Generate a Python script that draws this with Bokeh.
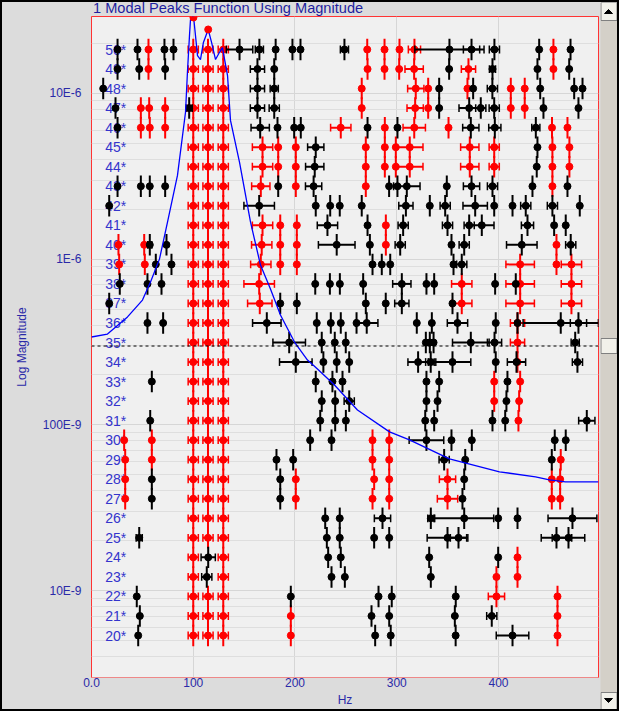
from bokeh.plotting import figure
from bokeh.layouts import row, column
from bokeh.models import (Range1d, FixedTicker, CustomJSTickFormatter, ColumnDataSource,
                          Span, LinearScale, Div)
from bokeh.embed import file_html
from bokeh.resources import INLINE
from bokeh.core.properties import value

# ---------------- data ----------------
title_text = "1 Modal Peaks Function Using Magnitude"
x_label = "Hz"
y_label = "Log Magnitude"
x_tick_vals = [0, 100, 200, 300, 400]
x_tick_labels = ["0.0", "100", "200", "300", "400"]
y_tick_vals = [1e-8, 1e-7, 1e-6, 1e-5]
y_tick_labels = ["10E-9", "100E-9", "1E-6", "10E-6"]
model_orders = list(range(20, 51))

# modal peaks function (magnitude)
curve_hz = [0, 15.7, 35.4, 50.1, 58, 66.8, 74.7, 84.5, 92.4, 94.3, 96.3, 97.3, 100.2, 104.2,
            107.1, 110, 114.7, 118, 121.9, 125.8, 128.7, 133.7, 136.6, 145.5, 156.3, 166.1,
            175.9, 185.7, 199.5, 212.3, 222.1, 238.8, 261.4, 292.9, 312.5, 351.8, 401, 436.4,
            450.1, 465.8, 498.3]
curve_mag = [3.39e-7, 3.53e-7, 4.48e-7, 5.66e-7, 7.27e-7, 1.0e-6, 1.67e-6, 3.2e-6, 7.69e-6,
             1.34e-5, 2.23e-5, 2.79e-5, 2.95e-5, 1.69e-5, 1.6e-5, 2.03e-5, 2.43e-5, 2.03e-5,
             1.6e-5, 1.77e-5, 1.89e-5, 1.28e-5, 6.87e-6, 3.84e-6, 1.67e-6, 9.2e-7, 6.6e-7,
             4.6e-7, 3.16e-7, 2.46e-7, 2.17e-7, 1.74e-7, 1.23e-7, 9.07e-8, 8.12e-8, 6.24e-8,
             5.21e-8, 4.86e-8, 4.66e-8, 4.53e-8, 4.53e-8]
peak_hz = [100.2, 114.7]
peak_mag = [2.87e-5, 2.43e-5]
cursor_mag = 2.99e-7

# stability markers per model order: (frequency Hz, half-width Hz)
red_50 = [(56,0),(100,5),(114.5,5),(129.5,5),(271,0),(288,0),(302.7,0),(317.4,6),(454,0)]
black_50 = [(25.6,0),(45.2,0),(71.7,0),(80.6,0),(145.5,13),(165,4),(181,0),(197.5,0),(205.4,0),
            (248.6,4),(351.8,34),(373.5,8),(396,5),(440,0),(470.8,0)]
red_49 = [(56,0),(100,5),(114.5,5),(129.5,5),(271.3,0),(288,0),(302.4,0),(317.1,9),(370.5,7),(454,0)]
black_49 = [(25.6,0),(46.9,0),(72.4,0),(163.1,7),(179.6,0),(351.5,0),(394.1,3),(438.3,0),(469.5,0)]
red_48 = [(100,5),(114.5,5),(129.5,5),(265.6,0),(318.7,8),(330.9,0),(369.5,0),(412.1,0),(425.8,0)]
black_48 = [(11.5,0),(163.1,7),(179.6,4),(341.7,0),(375.1,0),(394,5),(441,0),(474.4,0),(482.6,0)]
red_47 = [(48.5,0),(56.7,0),(72.4,0),(100,5),(114.5,5),(129.5,5),(265.6,0),(318.1,8),(330.9,0),
          (412.1,0),(425.8,0)]
black_47 = [(23.6,0),(96,3),(163.1,7),(179.6,5),(341.7,0),(371.2,10),(382.6,5),(395.8,5),
            (444.2,0),(478.6,0)]
red_46 = [(48.5,0),(57.3,0),(72.4,0),(100,5),(114.5,5),(129.5,5),(245,10),(288.3,0),(317.2,11),
          (350.9,0),(452.6,0),(467.8,0)]
black_46 = [(25.6,0),(165.8,9),(182.8,0),(199.2,0),(205.7,0),(271.3,0),(300.7,0),(372.8,8),
            (396.4,6),(436.7,4)]
red_45 = [(100,5),(114.5,5),(129.5,5),(168.1,10),(183.5,0),(200.8,0),(269.6,0),(288.3,0),
          (299.1,0),(312.8,13),(371.8,9),(395.8,5),(453,0),(469.7,0)]
black_45 = [(220.4,8),(438.3,0)]
red_44 = [(100,5),(114.5,5),(129.5,5),(168.1,10),(183.5,0),(200.8,0),(269.6,0),(288.3,0),
          (299.1,0),(312.8,13),(371.8,9),(395.8,5),(453,0),(469.7,0)]
black_44 = [(219.4,9),(437.6,0)]
red_43 = [(100,5),(114.5,5),(129.5,5),(166.4,9),(200.8,0),(269.6,0),(453,0)]
black_43 = [(25.6,0),(48.5,0),(57.3,0),(72.4,0),(183.5,0),(218.3,8),(292.5,0),(300.7,0),
            (309.9,13),(349.2,0),(373.5,8),(394.1,5),(433.4,0),(467.8,0)]
red_42 = [(100,5),(114.5,5),(129.5,5)]
black_42 = [(17.4,0),(164.8,15),(220.4,0),(234.6,0),(244,0),(265.6,0),(309,7),(332.5,0),
            (347.6,5),(377.1,12),(395.8,0),(413.8,0),(426.8,5),(453,5),(479.9,0)]
red_41 = [(100,5),(114.5,5),(129.5,5),(168.1,10),(185.5,0),(201.8,0),(289.3,0)]
black_41 = [(231.9,10),(271.3,0),(306.3,5),(349.9,5),(371.2,5),(383.6,12),(428.5,6),
            (454.7,0),(466.1,0)]
red_40 = [(26.5,0),(51.8,0),(100,5),(114.5,5),(129.5,5),(167.3,10),(185.5,0),(201.8,0),
          (289.3,0),(457,0)]
black_40 = [(57.3,2),(73.7,0),(241,18),(273.6,0),(303.4,5),(353.8,0),(366.3,5),(422.9,15),(471,5)]
red_39 = [(27.2,0),(52.4,0),(100,5),(114.5,5),(129.5,5),(166.4,10),(185.5,0),(201.8,0),
          (421.3,14),(457,0),(471.7,10)]
black_39 = [(63.2,0),(78.6,0),(276.2,0),(285.3,0),(293.6,0),(355.8,0),(363.9,5)]
red_38 = [(100,5),(114.5,5),(129.5,5),(164.8,15),(363.9,10),(421.3,14),(471.7,10)]
black_38 = [(27.8,0),(55,0),(68.8,0),(219.9,0),(234.3,0),(244.1,0),(267,0),(305,9),(329.2,0),
            (336.8,0),(396.7,0),(417,0)]
red_37 = [(100,5),(114.5,5),(129.5,5),(165.4,12),(363.9,10),(421.3,14),(471.7,10)]
black_37 = [(17.4,0),(185.5,0),(201.8,0),(269.6,0),(289.2,0),(305,7),(354.8,0)]
red_36 = [(100,5),(114.5,5),(129.5,5),(418.7,7)]
black_36 = [(55,0),(70.4,0),(172.3,14),(221.4,0),(235.2,0),(245,0),(260.5,0),(270.5,11),
            (319.7,0),(334.5,0),(359.7,10),(397.3,0),(418.7,0),(461.2,37),(478.6,8)]
red_35 = [(100,5),(114.5,5),(129.5,5),(418.7,7)]
black_35 = [(194.3,16),(226.3,0),(239.1,0),(249.9,0),(328.6,0),(332.5,0),(336.2,0),(372.8,18),
            (396.1,7),(475.4,4)]
red_34 = [(100,5),(114.5,5),(129.5,5),(418.7,0)]
black_34 = [(200.8,16),(227.9,0),(241,0),(253.3,0),(321,10),(333.4,5),(354.8,18),(397.3,0),
            (417.7,9),(477.6,5)]
red_33 = [(100,5),(114.5,5),(129.5,5),(395.8,0),(421.3,0)]
black_33 = [(59.3,0),(220.4,0),(236.8,0),(246.7,0),(329.2,0),(341.7,0),(408.8,0)]
red_32 = [(100,5),(114.5,5),(129.5,5),(395.8,0),(420.3,0)]
black_32 = [(226.3,0),(239.5,0),(253.3,5),(329.2,0),(340.1,0),(407.8,0)]
red_31 = [(100,5),(114.5,5),(129.5,5),(419.6,0)]
black_31 = [(57.7,0),(224.8,0),(239.5,0),(250,0),(328,0),(336.8,0),(394.1,0),(406.6,0),(486.8,8)]
red_30 = [(32.1,0),(59.3,0),(100,5),(114.5,5),(129.5,5),(276.2,0),(292.6,0)]
black_30 = [(214.9,0),(235.9,0),(329.2,17),(353.8,0),(373.8,0),(455.3,0),(466.1,0)]
red_29 = [(33.1,0),(59.3,0),(100,5),(114.5,5),(129.5,5),(276.2,0),(292.6,0),(461.2,0)]
black_29 = [(181.8,0),(198.2,0),(346.6,5),(367.3,0),(452.4,0)]
red_28 = [(33.1,0),(100,5),(114.5,5),(129.5,5),(200.8,0),(277.8,0),(292.6,0),(349.9,8),
          (452.4,0),(460.6,0)]
black_28 = [(59.3,0),(185.5,0),(366.3,0)]
red_27 = [(33.1,0),(100,5),(114.5,5),(129.5,5),(200.8,0),(276.2,0),(292.6,0),(349.9,10),
          (452.4,0),(460.6,0)]
black_27 = [(59.3,0),(185.5,0),(364.6,0)]
red_26 = [(100,5),(114.5,5),(129.5,5)]
black_26 = [(229.7,0),(244,0),(286,8),(333.5,3),(366.3,29),(399.7,0),(418.7,0),(472.7,24)]
red_25 = [(100,5),(114.5,5),(129.5,5)]
black_25 = [(46.9,3),(231.3,0),(244,0),(277.8,0),(292.6,0),(349.9,20),(360.7,8),(457,15),(468.8,16)]
red_24 = [(100,5),(129.5,5),(418.7,0)]
black_24 = [(114.7,7),(232.6,0),(245,0),(331.9,0),(399.7,0)]
red_23 = [(100,5),(129.5,5),(398,0),(418.7,0)]
black_23 = [(113.3,5),(235.9,0),(249,0),(333.5,0)]
red_22 = [(100,5),(114.5,5),(129.5,5),(398,8),(458,0)]
black_22 = [(44.5,0),(195.9,0),(282.1,0),(295.1,0),(358,0)]
red_21 = [(100,5),(114.5,5),(129.5,5),(195.9,0),(458,0)]
black_21 = [(47.5,0),(275.2,0),(292.6,0),(357.1,0),(393.4,5)]
red_20 = [(100,5),(114.5,5),(129.5,5),(195.9,0),(458,0)]
black_20 = [(45.9,0),(278.8,0),(294.1,0),(357.9,0),(413.8,16)]

# ---------------- styling / geometry ----------------
BORDER = 2
W, H_ALL = 598, 707
TH = 14                      # title strip height
H = H_ALL - TH               # main plot height
SB_W = 17
BL, BR, BT, BB = 89, 2, 0, 31
X_RANGE = (0, 498.3)
Y_RANGE = (2.99e-9, 2.91e-5)
ORDER_RANGE = (17.85, 51.69)
BLUE_TXT = "#2a2aa8"
FONT = "Liberation Sans"
BG = "#dcdcdc"

# title strip
title_div = Div(text=title_text, render_as_text=True, width=W, height=TH, margin=(0, 0, 0, 0),
                styles={"padding-left": f"{BL + 2}px", "font-family": FONT, "font-size": "14.6px",
                        "line-height": "12px", "color": "#1e1ea0", "white-space": "nowrap",
                        "overflow": "visible", "box-sizing": "border-box",
                        "background-color": BG})

p = figure(width=W, height=H, x_range=Range1d(*X_RANGE),
           y_range=Range1d(*Y_RANGE), y_axis_type="log", output_backend="svg",
           toolbar_location=None, min_border_left=BL, min_border_right=BR,
           min_border_top=BT, min_border_bottom=BB)
p.extra_y_ranges = {"order": Range1d(*ORDER_RANGE)}
p.extra_y_scales = {"order": LinearScale()}
p.background_fill_color = "#f0f0f0"
p.border_fill_color = BG
p.outline_line_color = "#ff3333"
p.outline_line_width = 1

# axes
p.xaxis.ticker = FixedTicker(ticks=x_tick_vals)
p.xaxis.formatter = CustomJSTickFormatter(args=dict(vals=x_tick_vals, labs=x_tick_labels), code="""
for (let i = 0; i < vals.length; i++) { if (Math.abs(tick - vals[i]) < 1e-6) return labs[i]; }
return "";
""")
minor = [k * 10 ** e for e in range(-9, -4) for k in range(2, 10)]
p.yaxis.ticker = FixedTicker(ticks=y_tick_vals, minor_ticks=minor)
p.yaxis.formatter = CustomJSTickFormatter(args=dict(vals=y_tick_vals, labs=y_tick_labels), code="""
for (let i = 0; i < vals.length; i++) {
  if (Math.abs(Math.log10(tick) - Math.log10(vals[i])) < 0.01) return labs[i];
}
return "";
""")
p.xaxis.axis_label = x_label
p.yaxis.axis_label = y_label
for ax in (p.xaxis, p.yaxis):
    ax.axis_line_color = None
    ax.major_tick_line_color = None
    ax.minor_tick_line_color = None
    ax.major_tick_out = 0
    ax.major_tick_in = 0
    ax.major_label_text_font = FONT
    ax.major_label_text_font_size = "12px"
    ax.major_label_text_color = BLUE_TXT
    ax.axis_label_text_font = FONT
    ax.axis_label_text_font_size = "12px"
    ax.axis_label_text_font_style = "normal"
    ax.axis_label_text_color = BLUE_TXT
p.xaxis.major_label_standoff = 0
p.xaxis.axis_label_standoff = 3
p.yaxis.major_label_standoff = 6
p.yaxis.axis_label_standoff = 11

p.xgrid.grid_line_color = "#d6d6d6"
p.ygrid.grid_line_color = "#d6d6d6"
p.ygrid.minor_grid_line_color = "#dedede"

# row labels
p.text(x=[13.5] * len(model_orders), y=model_orders, text=[f"{o}*" for o in model_orders],
       y_range_name="order", text_font=value(FONT), text_font_size="14px",
       text_color="#3434cc", text_baseline="middle", text_align="left")

# markers
def draw(prefix, color):
    xs, os_, es = [], [], []
    for o in model_orders:
        for hz, err in globals()[f"{prefix}_{o}"]:
            xs.append(hz); os_.append(o); es.append(err)
    src = ColumnDataSource(dict(x=xs, o=os_, lo=[o - 0.55 for o in os_], hi=[o + 0.55 for o in os_]))
    p.segment(x0="x", y0="lo", x1="x", y1="hi", source=src, y_range_name="order",
              line_color=color, line_width=2)
    bx = [x for x, e in zip(xs, es) if e > 0]
    bo = [o for o, e in zip(os_, es) if e > 0]
    be = [e for e in es if e > 0]
    bsrc = ColumnDataSource(dict(xl=[x - e for x, e in zip(bx, be)], xr=[x + e for x, e in zip(bx, be)],
                                 o=bo, clo=[o - 0.2 for o in bo], chi=[o + 0.2 for o in bo]))
    p.segment(x0="xl", y0="o", x1="xr", y1="o", source=bsrc, y_range_name="order",
              line_color=color, line_width=2)
    p.segment(x0="xl", y0="clo", x1="xl", y1="chi", source=bsrc, y_range_name="order",
              line_color=color, line_width=1.5)
    p.segment(x0="xr", y0="clo", x1="xr", y1="chi", source=bsrc, y_range_name="order",
              line_color=color, line_width=1.5)
    p.scatter(x="x", y="o", source=src, y_range_name="order", size=7,
              fill_color=color, line_color=color)

draw("red", "#ff0000")
draw("black", "#000000")

# curve and peaks
p.line(curve_hz, curve_mag, line_color="#0000ff", line_width=1.3)
p.scatter(peak_hz, peak_mag, size=7, fill_color="#ff0000", line_color="#ff0000")

# cursor
p.add_layout(Span(location=cursor_mag, dimension="width", line_color="#000000",
                  line_width=1, line_dash="3 3"))

# ---------------- scrollbar (decoration, pixel coordinates) ----------------
sb = figure(width=SB_W, height=H_ALL, x_range=Range1d(0, SB_W), y_range=Range1d(H_ALL, 0),
            output_backend="svg", toolbar_location=None, x_axis_location=None,
            y_axis_location=None, min_border=0)
sb.grid.visible = False
sb.outline_line_color = None
sb.background_fill_color = "#d4d0c8"
sb.border_fill_color = "#d4d0c8"
sb.quad(left=[0.5, 0.5, 0.5], right=[16.5, 16.5, 16.5], top=[0, 690, 336], bottom=[18, 707, 351],
        fill_color="#f2f1ea", line_color="#808080", line_width=1)
sb.patches(xs=[[4, 12, 8], [4, 12, 8]], ys=[[11, 11, 7], [696, 696, 700]],
           fill_color="#000000", line_color="#000000")

layout = row(column(title_div, p, spacing=0), sb, spacing=0,
             styles={"border": f"{BORDER}px solid #000000", "background-color": BG})

open("out.html", "w").write(file_html(layout, INLINE))
